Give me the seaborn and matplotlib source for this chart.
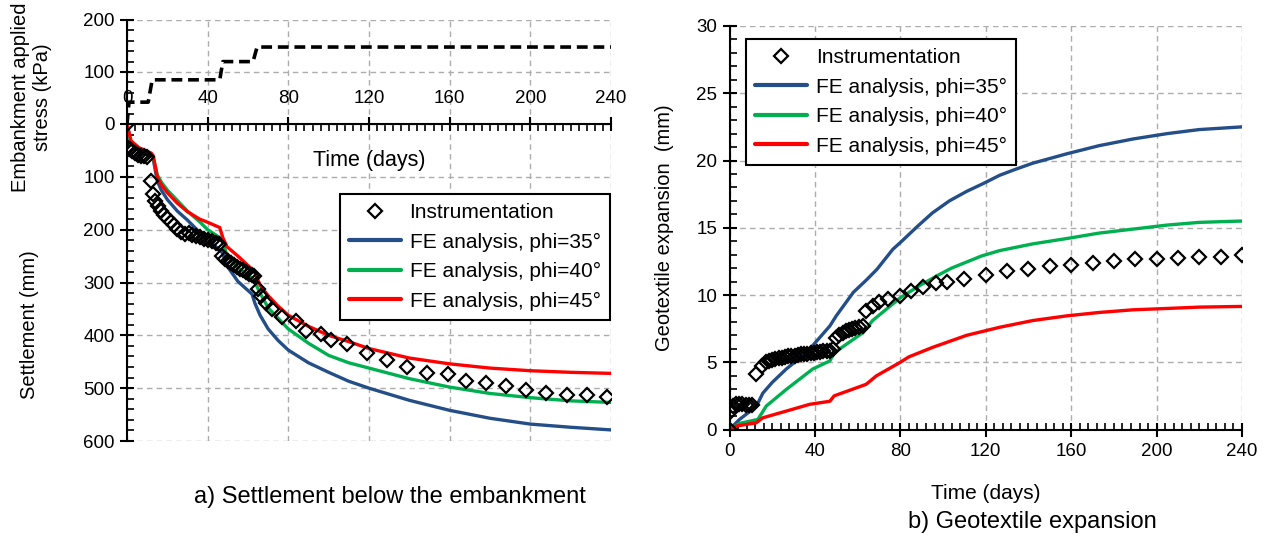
import seaborn as sns
import matplotlib.pyplot as plt
from matplotlib.lines import Line2D
from matplotlib.ticker import MultipleLocator

sns.set_style("ticks")
plt.rcParams['font.family'] = ['Liberation Sans', 'DejaVu Sans']
plt.rcParams.update({'text.color': 'black', 'axes.labelcolor': 'black', 'axes.edgecolor': 'black',
                     'xtick.color': 'black', 'ytick.color': 'black'})

# %% Data

# a) applied stress (kPa)
stress_days = [0, 1, 10.5, 12.5, 46, 47.5, 62.5, 64.5, 240]
stress_kpa = [0, 42, 42, 85, 85, 120, 120, 148, 148]

# a) settlement (mm)
fe_days_a = [0, 2, 6, 12, 13, 15, 17, 20, 25, 30, 36, 40, 46, 47.5, 49.5, 55, 62, 63.5,
             66, 70, 75, 80, 90, 100, 110, 120, 140, 160, 180, 200, 220, 240]
settle_35 = [0, 38, 50, 60, 66, 108, 125, 143, 165, 182, 205, 220, 238, 245, 268, 298, 322, 340,
             362, 388, 410, 428, 452, 470, 487, 500, 523, 542, 557, 568, 574, 579]
settle_40 = [0, 38, 50, 60, 64, 96, 110, 125, 145, 165, 185, 200, 215, 222, 248, 272, 292, 300,
             320, 348, 368, 388, 415, 438, 452, 462, 482, 498, 510, 518, 524, 527]
settle_45 = [0, 32, 45, 55, 60, 100, 115, 130, 150, 166, 180, 186, 196, 215, 232, 250, 275, 282,
             305, 325, 345, 362, 383, 400, 412, 425, 443, 454, 462, 467, 470, 472]

inst_days_a = [0, 0.5, 1.5, 2.5, 4, 5.5, 7, 8.5, 10, 12, 13, 14, 15.5, 17, 18.5, 20, 22, 23.5,
               25, 27, 29, 30.5, 32, 34, 36, 38, 40, 42, 44, 45.5, 47, 48.5, 50, 51.5, 53, 54.5,
               56, 57.5, 59, 60.5, 62, 63, 65, 66.5, 69, 72, 77, 84, 89, 96, 101, 109, 119, 129,
               139, 149, 159, 168, 178, 188, 198, 208, 218, 228, 238]
inst_settle = [0, 45, 48, 52, 55, 58, 60, 60, 62, 108, 133, 146, 155, 165, 172, 178, 186, 192,
               199, 205, 208, 206, 210, 212, 214, 217, 220, 222, 225, 228, 250, 255, 259, 263, 267, 270,
               274, 277, 280, 283, 285, 287, 313, 326, 338, 351, 366, 373, 392, 398, 408, 417, 433, 446,
               459, 471, 473, 486, 490, 495, 503, 509, 512, 512, 516]

# b) geotextile expansion (mm)
fe_days_35 = [0, 4.7, 12.5, 15.6, 20, 26.6, 36, 47, 50, 58, 64, 69, 76.5, 80, 88, 95, 103, 111,
              119, 126.5, 134, 142, 150, 158, 173, 189, 205, 220, 240]
exp_35 = [0, 0.75, 1.7, 2.7, 3.5, 4.5, 5.7, 7.7, 8.45, 10.2, 11.1, 11.9, 13.4, 13.9, 15.1, 16.1,
          17.0, 17.7, 18.3, 18.9, 19.35, 19.8, 20.15, 20.5, 21.1, 21.6, 22.0, 22.3, 22.5]
fe_days_40 = [0, 4.7, 13.3, 17.2, 26.6, 39, 47, 49, 62.5, 67, 80, 89, 98, 104, 111, 118, 126.5,
              142, 158, 173, 189, 205, 220, 240]
exp_40 = [0, 0.45, 0.75, 1.74, 2.98, 4.5, 5.1, 5.7, 7.2, 8.1, 9.8, 10.7, 11.5, 12.0, 12.45, 12.9,
          13.3, 13.8, 14.2, 14.6, 14.9, 15.2, 15.4, 15.5]
fe_days_45 = [0, 3, 12.5, 15.6, 26.6, 37.5, 47, 49, 64, 68.7, 80, 84, 95, 111, 126.5, 142, 158,
              173, 189, 205, 220, 240]
exp_45 = [0, 0.25, 0.5, 0.87, 1.37, 1.87, 2.1, 2.5, 3.36, 3.98, 5.0, 5.4, 6.1, 7.0, 7.6, 8.1,
          8.45, 8.7, 8.9, 9.0, 9.1, 9.15]

inst_days_b = [0, 0.5, 1.5, 3, 4.5, 6, 7.5, 9, 10.5, 12.5, 15, 17, 18.5, 20, 21.5, 23, 24.5, 26,
               27.5, 29, 30.5, 32, 33.5, 35, 36.5, 38, 39.5, 41, 42.5, 44, 45.5, 47, 48.5, 50, 51.5,
               53, 54.5, 56, 57.5, 59, 60.5, 62.5, 64, 67, 70, 74, 80, 85, 90.6, 96.9, 102, 110,
               120, 130, 140, 150, 160, 170, 180, 190, 200, 210, 220, 230, 240]
inst_exp = [0, 1.4, 1.75, 1.9, 1.9, 1.9, 1.85, 1.85, 1.85, 4.1, 4.7, 5.0, 5.1, 5.2, 5.25, 5.3,
            5.35, 5.4, 5.45, 5.5, 5.5, 5.55, 5.6, 5.6, 5.65, 5.7, 5.7, 5.75, 5.75, 5.8, 5.8, 5.85,
            6.0, 6.8, 7.0, 7.2, 7.3, 7.4, 7.5, 7.55, 7.6, 7.7, 8.8, 9.2, 9.45, 9.7, 9.95, 10.3,
            10.6, 10.9, 11.0, 11.2, 11.5, 11.75, 11.95, 12.15, 12.25, 12.4, 12.5, 12.65, 12.7,
            12.75, 12.8, 12.85, 13.0]

labels = ['Instrumentation', 'FE analysis, phi=35°', 'FE analysis, phi=40°', 'FE analysis, phi=45°']
colors = ['#234e87', '#00b050', '#ff0000']

# %% Figure layout

W, H = 1269, 535
fig = plt.figure(figsize=(W / 100, H / 100), dpi=100)


def box(x0, y0, x1, y1):
    return [x0 / W, 1 - y1 / H, (x1 - x0) / W, (y1 - y0) / H]


ax_top = fig.add_axes(box(127, 20, 611, 124))
ax_set = fig.add_axes(box(127, 124, 611, 441))
ax_geo = fig.add_axes(box(729.5, 26, 1242, 429.5))

grid_kw = dict(ls=(0, (4, 3)), color='#adadad', lw=1)
tick_fs = 13.5
lab_fs = 14.5
mk = dict(marker='D', linestyle='', markersize=7.5, markerfacecolor='none',
          markeredgecolor='black', markeredgewidth=1.6)

# %% a) stress panel

sns.lineplot(x=stress_days, y=stress_kpa, ax=ax_top, color='black', lw=2.6,
             linestyle=(0, (3, 1.6)), estimator=None, sort=False)
ax_top.set_xlim(0, 240)
ax_top.set_ylim(0, 200)
ax_top.xaxis.set_major_locator(MultipleLocator(40))
ax_top.set_yticks([100, 200])
ax_top.yaxis.set_minor_locator(MultipleLocator(20))
ax_top.tick_params(axis='x', length=0, labelbottom=False)
ax_top.tick_params(axis='y', which='major', direction='inout', length=10, width=1.5,
                   labelsize=tick_fs, pad=4)
ax_top.tick_params(axis='y', which='minor', direction='in', length=5, width=1.2)
ax_top.grid(True, which='major', **grid_kw)
ax_top.set_axisbelow(True)
for s in ['top', 'right', 'bottom']:
    ax_top.spines[s].set_visible(False)
ax_top.spines['left'].set_linewidth(1.5)
ax_top.set_xlabel('')
ax_top.set_ylabel('')
ax_top.patch.set_alpha(0)

# %% a) settlement panel

for days, vals, c in zip([fe_days_a] * 3, [settle_35, settle_40, settle_45], colors):
    sns.lineplot(x=days, y=vals, ax=ax_set, color=c, lw=2.4, estimator=None, sort=False)
sns.lineplot(x=inst_days_a, y=inst_settle, ax=ax_set, estimator=None, sort=False, **mk)
ax_set.set_xlim(0, 240)
ax_set.set_ylim(600, 0)
ax_set.xaxis.set_major_locator(MultipleLocator(40))
ax_set.xaxis.set_minor_locator(MultipleLocator(4))
ax_set.yaxis.set_major_locator(MultipleLocator(100))
ax_set.yaxis.set_minor_locator(MultipleLocator(20))
ax_set.xaxis.tick_top()
ax_set.tick_params(axis='both', which='major', direction='inout', length=10, width=1.5,
                   labelsize=tick_fs, pad=4)
ax_set.tick_params(axis='x', which='major', pad=7)
ax_set.tick_params(axis='both', which='minor', direction='in', length=5, width=1.2)
ax_set.grid(True, which='major', **grid_kw)
ax_set.set_axisbelow(True)
for s in ['bottom', 'right']:
    ax_set.spines[s].set_visible(False)
for s in ['top', 'left']:
    ax_set.spines[s].set_linewidth(1.5)
ax_set.set_xlabel('')
ax_set.set_ylabel('')
ax_set.text(0.5, 0.885, 'Time (days)', transform=ax_set.transAxes, ha='center', va='center',
            fontsize=15.5)

# %% b) geotextile panel

for days, vals, c in zip([fe_days_35, fe_days_40, fe_days_45], [exp_35, exp_40, exp_45], colors):
    sns.lineplot(x=days, y=vals, ax=ax_geo, color=c, lw=2.4, estimator=None, sort=False)
sns.lineplot(x=inst_days_b, y=inst_exp, ax=ax_geo, estimator=None, sort=False, **mk)
ax_geo.set_xlim(0, 240)
ax_geo.set_ylim(0, 30)
ax_geo.xaxis.set_major_locator(MultipleLocator(40))
ax_geo.xaxis.set_minor_locator(MultipleLocator(4))
ax_geo.yaxis.set_major_locator(MultipleLocator(5))
ax_geo.yaxis.set_minor_locator(MultipleLocator(1))
ax_geo.tick_params(axis='both', which='major', direction='inout', length=10, width=1.5,
                   labelsize=tick_fs, pad=4)
ax_geo.tick_params(axis='x', which='major', pad=5)
ax_geo.tick_params(axis='both', which='minor', direction='in', length=5, width=1.2)
ax_geo.grid(True, which='major', **grid_kw)
ax_geo.set_axisbelow(True)
for s in ['top', 'right']:
    ax_geo.spines[s].set_visible(False)
for s in ['bottom', 'left']:
    ax_geo.spines[s].set_linewidth(1.5)
ax_geo.set_xlabel('Time (days)', fontsize=15, labelpad=17)
ax_geo.set_ylabel('Geotextile expansion  (mm)', fontsize=lab_fs, labelpad=16)

# %% Legends

handles = [Line2D([], [], **mk)] + [Line2D([], [], color=c, lw=3) for c in colors]
leg_kw = dict(fontsize=15, frameon=True, fancybox=False, edgecolor='black', framealpha=1,
              handlelength=2.5, handletextpad=0.4, labelspacing=0.5, borderpad=0.45,
              borderaxespad=0)
leg_a = ax_set.legend(handles, labels, loc='upper right', bbox_to_anchor=(0.998, 0.78), **leg_kw)
leg_b = ax_geo.legend(handles, labels, loc='upper left', bbox_to_anchor=(0.032, 0.968), **leg_kw)
for leg in (leg_a, leg_b):
    leg.get_frame().set_linewidth(1.5)

# %% Outer labels

fig.text(32 / W, 1 - 97 / H, 'Embankment applied\nstress (kPa)', rotation=90, ha='center',
         va='center', fontsize=lab_fs, linespacing=1.2)
fig.text(30 / W, 1 - 325 / H, 'Settlement (mm)', rotation=90, ha='center', va='center',
         fontsize=lab_fs)
fig.text(390 / W, 1 - 497 / H, 'a) Settlement below the embankment', ha='center', va='center',
         fontsize=17)
fig.text(1032 / W, 1 - 522 / H, 'b) Geotextile expansion', ha='center', va='center',
         fontsize=17)

fig.savefig('out.png', dpi=100)
